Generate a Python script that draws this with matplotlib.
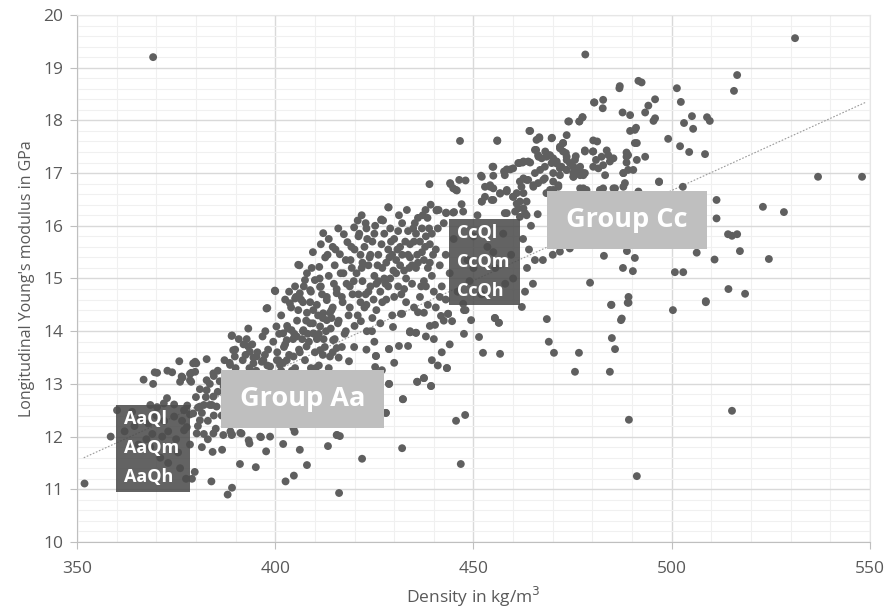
import numpy as np
import matplotlib
matplotlib.use("Agg")
import matplotlib.pyplot as plt
from matplotlib.patches import Rectangle
from matplotlib.ticker import MultipleLocator

plt.rcParams['font.family'] = ['Open Sans', 'DejaVu Sans']

# --- data (density kg/m3, modulus GPa) ---
pts_left = [
    (351.9, 11.11), (360.1, 12.50), (363.9, 12.47), (366.8, 13.08), (369.2, 13.00), (369.6, 13.22),
    (370.2, 13.21), (372.8, 13.25), (374.0, 13.22), (375.8, 13.43), (376.6, 13.12), (378.8, 13.21),
    (378.8, 13.04), (380.1, 13.39), (382.7, 13.47), (368.5, 12.60), (370.2, 12.56), (371.9, 12.63),
    (372.7, 12.73), (374.5, 12.61), (377.8, 12.59), (377.0, 12.50), (366.0, 12.35), (368.0, 12.25),
    (370.0, 12.40), (372.0, 12.30), (374.5, 12.38), (376.5, 12.30), (378.5, 12.42), (367.5, 11.95),
    (369.0, 12.05), (371.5, 12.00), (373.0, 12.10), (375.0, 11.95), (377.0, 12.12), (378.5, 11.85),
    (365.5, 11.85), (368.5, 11.80), (371.0, 11.60), (373.0, 11.50), (375.5, 11.70), (377.5, 11.20),
    (379.0, 11.20), (362.0, 12.10), (364.5, 12.20), (358.5, 12.00), (376.0, 11.40), (369.2, 19.20),
    (379.3, 13.39), (379.8, 13.23), (378.5, 13.19), (376.4, 13.14), (378.5, 13.07), (376.0, 13.04),
    (379.8, 13.42), (379.3, 12.44), (377.7, 12.18), (380.2, 12.06),
]
pts_aa = [
    (379.7, 11.33), (383.9, 11.15), (388.0, 10.90), (389.1, 11.03), (391.1, 11.48), (395.1, 11.42),
    (397.7, 11.72), (384.2, 11.71), (386.6, 11.75), (402.6, 11.15), (404.7, 11.26), (402.0, 11.86),
    (404.9, 12.09), (396.4, 11.99), (393.3, 11.93), (393.5, 11.87), (391.2, 12.07), (389.1, 12.04),
    (388.7, 12.10), (380.5, 12.20), (381.5, 12.45), (382.0, 12.05), (383.0, 12.30), (384.0, 12.60),
    (385.0, 12.15), (385.5, 12.85), (386.5, 12.40), (387.0, 12.95), (380.0, 12.75), (381.0, 12.90),
    (382.5, 12.75), (383.5, 13.00), (384.5, 13.15), (385.5, 13.25), (386.0, 13.05), (383.0, 11.95),
    (381.5, 11.80), (380.5, 12.55), (384.5, 12.40), (382.0, 12.60), (382.7, 12.88), (384.4, 12.76),
    (383.5, 12.60), (385.2, 12.57), (381.0, 12.57), (381.0, 12.31), (384.4, 12.06), (386.9, 12.03),
    (389.0, 12.03), (391.5, 12.06), (396.2, 12.00), (398.7, 12.00), (404.6, 12.16), (415.5, 12.03),
    (389.1, 13.92), (389.9, 13.65), (392.0, 13.75), (392.5, 13.55), (394.5, 13.50), (393.5, 13.30),
    (388.5, 13.40), (390.0, 13.30), (395.5, 13.60), (397.0, 13.45), (398.0, 13.35), (398.0, 14.44),
    (399.5, 13.80), (397.5, 14.00), (389.0, 13.91), (392.8, 13.85), (393.2, 13.71), (393.6, 13.61),
    (389.4, 13.64), (389.8, 13.52), (387.2, 13.45), (388.6, 13.36), (384.4, 13.20), (382.7, 13.07),
    (395.3, 13.52), (396.6, 13.42), (397.4, 13.55), (394.5, 13.39), (398.7, 13.33), (400.4, 13.45),
    (401.2, 13.36), (402.9, 13.45), (404.6, 13.52), (402.2, 13.70), (399.2, 13.05), (398.2, 13.65),
    (396.8, 13.90), (394.2, 13.75), (393.2, 14.05), (391.8, 13.45), (390.8, 13.85),
]
pts_mid = [
    (400.5, 13.60), (401.0, 13.95), (401.5, 14.30), (402.0, 13.40), (402.5, 13.75), (403.0, 14.10),
    (403.5, 13.55), (404.0, 14.45), (404.5, 13.85), (405.0, 13.30), (405.5, 14.20), (406.0, 13.65),
    (406.1, 15.25), (406.5, 14.60), (407.0, 14.00), (407.5, 14.97), (407.5, 13.45), (408.0, 14.35),
    (408.5, 13.80), (409.0, 14.75), (409.5, 14.15), (410.0, 14.97), (410.0, 13.60), (410.5, 14.50),
    (411.0, 13.95), (411.1, 15.22), (411.5, 14.85), (412.0, 14.25), (412.1, 15.86), (412.6, 15.40),
    (412.5, 13.70), (413.0, 14.65), (413.5, 15.05), (414.0, 14.05), (414.5, 14.45), (415.0, 15.25),
    (415.0, 13.85), (415.5, 14.80), (415.9, 15.95), (416.0, 14.20), (416.3, 15.46), (416.5, 15.10),
    (417.0, 14.55), (417.3, 15.84), (417.5, 13.95), (418.0, 14.90), (418.2, 15.69), (418.5, 14.30),
    (419.0, 15.35), (419.5, 14.70), (419.9, 15.97), (420.0, 14.10), (399.9, 14.77), (397.8, 14.43),
    (403.0, 13.05), (406.0, 12.95), (408.5, 13.15), (411.0, 13.35), (413.5, 13.30), (416.8, 13.70),
    (418.6, 13.43), (419.9, 13.70), (416.0, 13.50), (401.5, 13.25), (402.5, 14.60), (405.0, 14.85),
    (407.0, 14.55), (409.0, 13.30), (410.5, 13.85), (412.0, 13.55), (414.5, 13.60), (403.5, 14.75),
    (408.0, 15.10), (409.5, 15.50), (411.5, 15.65), (413.5, 15.75), (414.5, 15.60), (400.0, 14.76),
    (405.0, 14.62), (405.8, 15.26), (400.3, 14.09), (402.0, 13.96), (402.9, 13.83), (404.1, 14.02),
    (405.4, 13.90), (407.1, 14.02), (408.8, 14.15), (409.6, 13.96), (411.3, 14.09), (413.0, 14.21),
    (414.6, 13.83), (407.9, 13.71), (411.3, 13.64), (413.8, 13.52), (415.5, 13.68), (403.7, 14.53),
    (406.2, 14.72), (408.8, 14.78), (411.3, 14.84), (413.0, 14.59), (415.5, 14.72), (409.6, 14.40),
    (412.1, 14.34), (414.2, 14.40), (403.2, 14.05), (404.8, 13.95), (405.8, 14.40), (406.8, 13.85),
    (407.8, 14.20), (408.8, 14.55), (409.8, 13.95), (410.8, 14.30), (411.8, 14.70), (412.8, 14.00),
    (413.8, 14.35), (414.8, 14.90), (415.8, 14.15), (416.8, 14.65), (417.8, 14.00), (418.8, 14.45),
    (419.8, 14.95), (405.2, 14.65), (407.2, 14.85), (409.2, 15.20), (411.2, 15.00), (413.2, 15.45),
    (415.2, 15.55), (417.2, 15.10), (419.2, 15.60), (404.2, 13.25), (406.2, 13.60), (408.2, 13.95),
    (410.2, 13.30), (412.2, 13.85), (414.2, 14.25), (400.8, 13.45), (395.2, 13.25),
    (432.0, 11.78), (421.9, 11.58), (416.1, 10.93), (413.3, 11.82), (415.6, 12.03), (416.3, 12.01),
    (408.0, 11.46), (406.2, 11.75),
]
pts_core = [
    (420.5, 15.10), (421.0, 14.70), (421.5, 15.45), (421.6, 14.19), (422.0, 14.95), (422.5, 15.60),
    (423.0, 14.50), (423.1, 14.00), (423.5, 15.25), (424.0, 14.85), (424.4, 14.00), (424.5, 15.70),
    (425.0, 15.05), (425.2, 13.32), (425.4, 13.53), (425.5, 14.40), (426.0, 15.45), (426.5, 14.75),
    (426.7, 16.11), (426.9, 13.26), (427.0, 15.20), (427.5, 15.85), (428.0, 14.60), (428.5, 15.55),
    (428.5, 16.35), (428.7, 13.66), (429.0, 15.00), (429.5, 14.30), (429.7, 14.08), (430.0, 15.75),
    (430.5, 15.35), (431.0, 14.85), (431.2, 13.72), (431.5, 15.60), (431.7, 14.33), (432.0, 16.05),
    (432.5, 15.15), (433.0, 14.55), (433.5, 13.72), (433.5, 15.90), (434.0, 15.40), (434.0, 13.98),
    (434.5, 14.90), (435.0, 15.70), (435.5, 13.97), (435.5, 15.20), (436.0, 14.36), (436.0, 16.15),
    (436.5, 14.65), (437.0, 15.50), (437.5, 13.11), (437.5, 14.95), (437.9, 16.30), (438.0, 15.80),
    (438.5, 14.50), (438.9, 16.79), (439.0, 15.30), (439.0, 14.10), (439.3, 12.96), (439.5, 15.05),
    (440.0, 14.75), (440.3, 14.12), (440.7, 16.29), (420.0, 15.55), (421.0, 15.80), (422.0, 15.30),
    (423.0, 15.95), (424.0, 15.45), (425.0, 15.85), (426.0, 14.95), (427.0, 14.55), (428.0, 15.30),
    (429.0, 15.95), (430.0, 14.65), (431.0, 15.90), (432.0, 15.45), (433.0, 15.00), (434.0, 15.65),
    (435.0, 14.45), (436.0, 15.30), (437.0, 15.95), (438.0, 14.85), (439.0, 15.65), (422.5, 14.45),
    (424.5, 14.25), (426.5, 14.15), (428.5, 14.85), (430.5, 15.10), (432.5, 14.80), (434.5, 15.25),
    (436.5, 15.70), (438.5, 15.20), (421.5, 14.55), (423.5, 14.75), (425.5, 14.90), (427.5, 15.00),
    (429.5, 15.45), (431.5, 15.25), (433.5, 15.45), (435.5, 15.85), (437.5, 15.35), (439.5, 15.85),
    (420.8, 16.10), (422.8, 16.05), (419.3, 15.20), (418.8, 14.85), (417.8, 15.35), (428.7, 13.00),
    (427.9, 12.45), (432.2, 12.71), (435.8, 13.04), (425.0, 13.80), (430.0, 13.40), (423.0, 13.65),
    (420.8, 14.30), (421.8, 15.20), (422.8, 14.70), (423.8, 15.40), (424.8, 14.60), (425.8, 15.25),
    (426.8, 15.65), (427.8, 14.90), (428.8, 15.40), (429.8, 15.15), (430.8, 15.55), (431.8, 14.70),
    (432.8, 15.70), (433.8, 15.20), (434.8, 15.95), (435.8, 15.45), (436.8, 14.85), (437.8, 15.60),
    (438.8, 15.95), (439.8, 15.45), (421.2, 15.85), (423.2, 15.75), (425.2, 16.00), (427.2, 16.10),
    (429.2, 15.70), (431.2, 16.20), (433.2, 16.30), (435.2, 16.05), (437.2, 16.20), (439.2, 16.40),
    (441.2, 16.30), (421.8, 16.20), (426.8, 16.12), (428.6, 16.35), (425.4, 13.53), (428.7, 13.66),
    (434.0, 13.98), (435.5, 13.97), (432.0, 14.33), (437.5, 14.35),
]
pts_cc = [
    (440.5, 15.55), (441.0, 15.95), (441.5, 15.25), (441.8, 14.29), (442.0, 14.85), (442.5, 16.05),
    (443.0, 15.45), (443.1, 16.25), (443.3, 13.30), (443.6, 14.33), (444.0, 15.10), (444.1, 16.81),
    (444.6, 14.19), (444.9, 16.25), (445.0, 15.75), (445.6, 16.68), (445.6, 12.30), (446.0, 14.75),
    (446.4, 16.87), (446.6, 17.61), (446.8, 11.48), (447.0, 16.41), (447.4, 16.27), (447.4, 14.52),
    (447.6, 14.40), (447.6, 13.95), (447.9, 12.41), (448.0, 16.86), (448.5, 15.35), (449.0, 14.95),
    (449.4, 14.21), (450.0, 15.80), (451.0, 16.20), (451.4, 13.89), (451.9, 16.95), (452.1, 16.46),
    (452.4, 13.59), (452.9, 16.74), (453.5, 15.60), (454.2, 16.77), (454.8, 17.12), (455.0, 16.95),
    (455.0, 16.49), (455.4, 14.25), (455.5, 15.20), (456.0, 17.62), (456.4, 14.16), (456.7, 16.61),
    (456.7, 13.57), (457.5, 15.85), (457.7, 17.03), (458.4, 16.68), (458.4, 16.24), (459.3, 17.07),
    (459.5, 15.45), (460.0, 16.55), (460.9, 16.42), (461.3, 17.19), (461.7, 16.84), (461.7, 16.17),
    (462.1, 16.74), (462.2, 14.46), (462.4, 17.20), (463.0, 16.24), (463.4, 16.87), (463.4, 16.46),
    (464.1, 17.80), (464.3, 17.20), (465.1, 16.74), (450.0, 15.20), (455.0, 15.50), (458.0, 14.90),
    (452.0, 14.70), (460.0, 15.00), (462.5, 15.75), (463.5, 15.20), (464.0, 15.55), (465.0, 14.90),
    (464.5, 16.00), (463.0, 14.75), (465.5, 15.35), (440.5, 14.45), (441.5, 14.65), (442.5, 14.20),
    (443.0, 14.60), (440.0, 13.85), (442.0, 13.60), (441.0, 13.35), (444.0, 13.75), (439.5, 13.45),
    (438.0, 13.90), (443.3, 13.30), (444.2, 16.79), (444.9, 16.71), (445.8, 16.67), (443.1, 16.24),
    (445.1, 16.26), (438.4, 16.15), (440.7, 16.30), (443.6, 14.33), (448.0, 14.40), (435.8, 13.04),
    (437.5, 13.11), (439.3, 12.96), (432.2, 12.71), (428.7, 13.00), (427.9, 12.45), (434.0, 14.00),
    (455.4, 14.25), (456.4, 14.16), (452.1, 16.93), (455.0, 17.12), (457.9, 16.96), (458.4, 17.07),
    (460.0, 17.09), (454.2, 16.74), (455.0, 16.71), (452.9, 16.55), (454.6, 16.49), (452.1, 16.46),
    (456.7, 16.62), (458.4, 16.65), (460.0, 16.55), (460.9, 16.62), (462.6, 16.62), (461.7, 16.46),
    (461.3, 16.33), (462.6, 16.33), (463.4, 16.20), (457.9, 16.24), (460.5, 16.27), (461.6, 17.19),
    (462.6, 17.22), (463.8, 17.22), (462.6, 16.90), (463.8, 16.87),
]
pts_upper = [
    (465.8, 17.44), (465.9, 17.63), (466.2, 16.22), (466.4, 17.31), (466.6, 17.68), (467.6, 16.87),
    (468.1, 17.41), (468.4, 16.62), (468.9, 17.34), (469.8, 17.67), (470.1, 17.28), (470.1, 16.84),
    (470.1, 16.68), (471.0, 17.18), (471.4, 16.77), (471.8, 17.50), (471.8, 16.36), (472.6, 17.57),
    (472.6, 17.41), (473.5, 17.72), (473.5, 17.31), (473.9, 17.98), (474.3, 16.49), (475.2, 17.00),
    (475.8, 17.32), (476.7, 17.98), (476.9, 17.12), (476.9, 16.33), (477.5, 18.06), (477.7, 17.00),
    (478.1, 17.41), (478.2, 19.25), (479.4, 16.55), (480.2, 17.41), (480.4, 18.34), (465.1, 16.77),
    (466.3, 16.81), (468.0, 16.90), (470.1, 17.00), (471.8, 16.96), (475.2, 16.93), (476.9, 16.96),
    (478.1, 17.00), (475.6, 17.09), (473.5, 17.06), (471.8, 17.09), (465.5, 17.44), (466.3, 17.34),
    (467.2, 17.28), (468.4, 17.31), (469.3, 17.34), (469.7, 17.19), (471.0, 17.22), (468.0, 17.12),
    (466.8, 17.06), (465.5, 17.00), (469.7, 17.66), (471.4, 16.74), (469.3, 16.68), (476.9, 16.71),
    (478.5, 16.68), (482.7, 16.71), (485.3, 16.71), (487.8, 16.74), (487.8, 17.00), (488.2, 16.81),
    (490.3, 17.06), (488.6, 17.31), (491.2, 17.57), (490.7, 17.82), (478.1, 17.43), (480.1, 17.41),
    (483.6, 17.43), (484.0, 17.34), (485.3, 17.28), (482.3, 17.31), (480.9, 17.25), (480.2, 17.12),
    (481.5, 17.09), (482.7, 17.15), (484.4, 17.22), (488.6, 17.39), (489.0, 17.34), (491.2, 17.25),
    (488.6, 17.20), (493.3, 17.31), (489.0, 17.06), (483.2, 16.96), (487.8, 17.00), (485.7, 16.71),
    (481.9, 16.68), (477.7, 16.71), (475.2, 16.93), (476.0, 17.00), (477.7, 16.96), (476.9, 17.03),
    (473.3, 17.38), (473.5, 17.25), (474.3, 17.19), (475.6, 17.25), (475.2, 17.12), (473.5, 17.06),
    (472.2, 17.12), (491.6, 16.65), (496.8, 16.84), (474.1, 17.98), (476.7, 17.98), (477.5, 18.06),
    (472.6, 17.57), (471.8, 17.47), (480.2, 17.62), (481.2, 17.60), (495.8, 18.40), (494.1, 18.28),
    (493.3, 18.15), (495.8, 18.04), (495.4, 17.99), (491.6, 18.75), (492.4, 18.72), (486.9, 18.65),
    (486.8, 18.61), (482.7, 18.39), (482.6, 18.23), (480.5, 18.34), (487.6, 18.15), (489.5, 18.10),
    (489.5, 17.80), (491.0, 17.86), (490.7, 17.57), (466.6, 17.66), (464.3, 17.80), (456.0, 17.61),
]
pts_right = [
    (468.5, 14.23), (469.0, 13.80), (470.3, 13.59), (476.6, 13.59), (475.6, 13.23), (474.3, 15.57),
    (471.8, 15.51), (467.5, 15.35), (470.0, 15.45), (482.9, 15.43), (488.7, 15.52), (490.7, 15.39),
    (487.7, 15.20), (490.2, 15.14), (479.4, 14.92), (484.8, 14.50), (489.1, 14.65), (489.1, 14.54),
    (487.4, 14.24), (484.7, 14.50), (488.9, 14.54), (487.2, 14.21), (484.9, 13.87), (485.7, 13.66),
    (484.4, 13.23), (489.2, 12.32), (491.2, 11.25), (500.3, 14.40), (500.8, 15.12), (502.9, 15.12),
    (506.3, 15.49), (510.8, 15.36), (508.6, 14.57), (514.3, 14.80), (518.5, 14.71), (524.5, 15.37),
    (517.2, 15.52), (514.2, 15.84), (515.2, 15.81), (516.5, 15.84), (511.3, 16.49), (511.3, 16.14),
    (523.0, 16.36), (528.3, 16.26), (536.9, 16.93), (548.0, 16.93), (531.1, 19.56), (516.5, 18.86),
    (515.7, 18.56), (515.2, 12.49), (501.3, 18.61), (502.3, 18.35), (505.1, 18.08), (503.1, 17.95),
    (505.4, 17.84), (508.9, 18.06), (509.6, 17.99), (502.1, 17.51), (504.4, 17.40), (508.4, 17.36),
    (499.1, 17.65), (496.8, 16.83), (502.8, 16.74), (508.6, 14.55),
]

# Excel-style linear trendline
trend_x = [351.7, 549.0]
trend_slope = 0.0342
trend_intercept = -0.43

# text boxes: (x0, y0, width, height) in data units
box_aa_small = (359.8, 10.95, 18.7, 1.65)
box_aa_group = (386.3, 12.16, 41.1, 1.10)
box_cc_small = (443.8, 14.50, 17.9, 1.63)
box_cc_group = (468.5, 15.56, 40.4, 1.10)

all_pts = pts_left + pts_aa + pts_mid + pts_core + pts_cc + pts_upper + pts_right
density = np.array([p[0] for p in all_pts])
modulus = np.array([p[1] for p in all_pts])

TXT = '#595959'

fig = plt.figure(figsize=(8.88, 6.11), dpi=100)
ax = fig.add_axes([0.0867, 0.1129, 0.893, 0.8626])

ax.set_xlim(350, 550)
ax.set_ylim(10, 20)
ax.xaxis.set_major_locator(MultipleLocator(50))
ax.xaxis.set_minor_locator(MultipleLocator(10))
ax.yaxis.set_major_locator(MultipleLocator(1))
ax.yaxis.set_minor_locator(MultipleLocator(0.2))
ax.grid(which='major', color='#d9d9d9', lw=1.0, zorder=0)
ax.grid(which='minor', color='#f0f0f0', lw=0.8, zorder=0)
ax.set_axisbelow(True)

for s in ax.spines.values():
    s.set_color('#e6e6e6')
ax.spines['left'].set_color('#bfbfbf')
ax.spines['bottom'].set_color('#bfbfbf')

ax.tick_params(which='major', length=5, color='#bfbfbf', labelcolor=TXT, labelsize=12.5)
ax.tick_params(axis='x', which='major', pad=9)
ax.tick_params(axis='y', which='major', pad=5)
ax.tick_params(which='minor', length=0)

tx = np.array(trend_x)
ax.plot(tx, trend_slope * tx + trend_intercept, ls=(0, (1.5, 1.5)), lw=0.8, color='#9a9a9a', zorder=2)

ax.scatter(density, modulus, s=32, color='#5f5f5f', edgecolors='none', zorder=3)

def dark_box(b, lines):
    ax.add_patch(Rectangle((b[0], b[1]), b[2], b[3], facecolor='#4d4d4d', alpha=0.88,
                           edgecolor='none', zorder=4))
    step = b[3] / 3
    for i, t in enumerate(lines):
        ax.text(b[0] + 2.0, b[1] + b[3] - step * (i + 0.5), t, color='white', fontsize=13,
                fontweight='bold', ha='left', va='center', zorder=5)

def light_box(b, label):
    ax.add_patch(Rectangle((b[0], b[1]), b[2], b[3], facecolor='#bfbfbf', edgecolor='none', zorder=4))
    ax.text(b[0] + b[2] / 2, b[1] + b[3] / 2, label, color='white', fontsize=19.5,
            fontweight='bold', ha='center', va='center', zorder=5)

dark_box(box_aa_small, ['AaQl', 'AaQm', 'AaQh'])
light_box(box_aa_group, 'Group Aa')
dark_box(box_cc_small, ['CcQl', 'CcQm', 'CcQh'])
light_box(box_cc_group, 'Group Cc')

ax.set_xlabel('Density in kg/m$^3$', color=TXT, fontsize=12.5, labelpad=5)
ax.set_ylabel("Longitudinal Young's modulus in GPa", color=TXT, fontsize=11.5, labelpad=6)

fig.savefig('out.png', dpi=100)
